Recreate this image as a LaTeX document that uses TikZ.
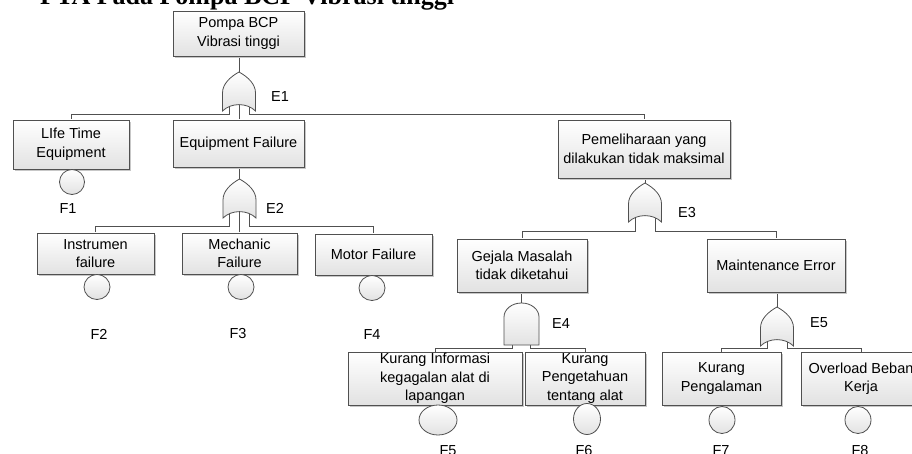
\documentclass[tikz,border=0pt]{standalone}
\usepackage{fontspec}
\setmainfont{Liberation Sans}
\newfontfamily\titleserif{Liberation Serif}
\usetikzlibrary{shapes.geometric,shadows}
\definecolor{edge}{HTML}{505050}
\definecolor{fillbot}{HTML}{E2E2E2}
\pgfdeclarelayer{paper}
\pgfdeclarelayer{wires}
\pgfsetlayers{paper,wires,main}

\tikzset{
  labelfont/.style={font=\fontsize{14.5}{18.5}\selectfont},
  eventbox/.style={labelfont, draw=edge, line width=0.8pt, top color=white,
    bottom color=fillbot, align=center, inner sep=0pt,
    drop shadow={shadow xshift=1.6pt, shadow yshift=-1.6pt, fill=black!22, opacity=1}},
  basic/.style={ellipse, draw=edge, line width=0.8pt, top color=white,
    bottom color=fillbot, inner sep=0pt},
  tag/.style={labelfont, inner sep=0pt},
  wire/.style={draw=edge, line width=0.8pt},
  gatebody/.style={draw=edge, line width=0.8pt, top color=white, bottom color=fillbot},
  % OR gate, apex at the pic origin, 33 wide and 39 high
  orgate/.pic={
    \path[gatebody] (0,0) .. controls (9,5) and (16.5,12) .. (16.5,21) -- (16.5,39)
      .. controls (8,30.5) and (-8,30.5) .. (-16.5,39) -- (-16.5,21)
      .. controls (-16.5,12) and (-9,5) .. (0,0) -- cycle;
    \coordinate (-in) at (0,0);
    \coordinate (-l) at (-10,34);
    \coordinate (-c) at (0,33);
    \coordinate (-r) at (10,34);
  },
  % AND gate, top of the dome at the pic origin, 35 wide and 42 high
  andgate/.pic={
    \path[gatebody] (-17.5,42) -- (-17.5,14) .. controls (-17.5,6.3) and (-9.7,0) .. (0,0)
      .. controls (9.7,0) and (17.5,6.3) .. (17.5,14) -- (17.5,42) -- cycle;
    \coordinate (-in) at (0,0);
    \coordinate (-l) at (-9,38);
    \coordinate (-r) at (9,38);
  },
}

\begin{document}
\begin{tikzpicture}[x=1pt,y=-1pt]
\useasboundingbox (0,0) rectangle (912,454);
\clip (0,0) rectangle (912,454);
\begin{pgfonlayer}{paper}
  \fill[white] (0,0) rectangle (912,454);
\end{pgfonlayer}

% heading
\node[anchor=base west, inner sep=0pt, font=\titleserif\bfseries\fontsize{26}{26}\selectfont]
  (title) at (40,5) {FTA Pada Pompa BCP Vibrasi tinggi};

% events
\node[eventbox, minimum width=131, minimum height=45] (top) at (238.5,33.5) {Pompa BCP\\Vibrasi tinggi};
\node[eventbox, minimum width=116, minimum height=49] (life) at (71,144.5) {LIfe Time\\Equipment};
\node[eventbox, minimum width=131, minimum height=47] (eqf) at (238.5,143.5) {Equipment Failure};
\node[eventbox, minimum width=172, minimum height=58] (pem) at (644,149) {Pemeliharaan yang\\dilakukan tidak maksimal};
\node[eventbox, minimum width=117, minimum height=41] (instr) at (95.5,253.5) {Instrumen\\failure};
\node[eventbox, minimum width=115, minimum height=41] (mech) at (239.5,253.5) {Mechanic\\Failure};
\node[eventbox, minimum width=117, minimum height=41] (motor) at (373.5,254.5) {Motor Failure};
\node[eventbox, minimum width=130, minimum height=53] (gejala) at (522,265.5) {Gejala Masalah\\tidak diketahui};
\node[eventbox, minimum width=138, minimum height=53] (maint) at (776,265.5) {Maintenance Error};
\node[eventbox, minimum width=174, minimum height=53] (kinfo) at (435,378.5) {Kurang Informasi\\kegagalan alat di\\lapangan};
\node[eventbox, minimum width=120, minimum height=53] (kpeng) at (585,378.5) {Kurang\\Pengetahuan\\tentang alat};
\node[eventbox, minimum width=119, minimum height=53] (kpgl) at (721.5,378.5) {Kurang\\Pengalaman};
\node[eventbox, minimum width=119, minimum height=53] (over) at (861,378.5) {Overload Beban\\Kerja};

% gates
\pic (g1) at (239,72) {orgate};
\pic (g2) at (239.5,179) {orgate};
\pic (g3) at (645,183) {orgate};
\pic (g4) at (521.5,303) {andgate};
\pic (g5) at (777,307) {orgate};

\node[tag] (e1) at (280,97) {E1};
\node[tag] (e2) at (275,208) {E2};
\node[tag] (e3) at (687,213) {E3};
\node[tag] (e4) at (561,324) {E4};
\node[tag] (e5) at (819,323) {E5};

% basic events
\node[basic, minimum width=25, minimum height=25] (f1c) at (72,182) {};
\node[basic, minimum width=26, minimum height=25] (f2c) at (97,287) {};
\node[basic, minimum width=26, minimum height=25] (f3c) at (241,287) {};
\node[basic, minimum width=26, minimum height=25] (f4c) at (372,288) {};
\node[basic, minimum width=38, minimum height=30] (f5c) at (438,420) {};
\node[basic, minimum width=27, minimum height=31] (f6c) at (587,419) {};
\node[basic, minimum width=26, minimum height=27] (f7c) at (722,420) {};
\node[basic, minimum width=26, minimum height=27] (f8c) at (858,420) {};

\node[tag] (f1) at (68,209) {F1};
\node[tag] (f2) at (99,334) {F2};
\node[tag] (f3) at (238,334) {F3};
\node[tag] (f4) at (372,335) {F4};
\node[tag] (f5) at (448,451) {F5};
\node[tag] (f6) at (584,451) {F6};
\node[tag] (f7) at (721,451) {F7};
\node[tag] (f8) at (860,451) {F8};

% bus levels under each gate
\coordinate (b1) at (239,114);
\coordinate (b2) at (239.5,226);
\coordinate (b3) at (645,231);
\coordinate (b4) at (521.5,348);
\coordinate (b5) at (777,348);

\begin{pgfonlayer}{wires}
  \draw[wire] (g1-in) -- (g1-in |- top.south);
  \draw[wire] (g1-l) -- (g1-l |- b1) -| (life.north);
  \draw[wire] (g1-c) -- (g1-c |- eqf.north);
  \draw[wire] (g1-r) -- (g1-r |- b1) -| (pem.north);

  \draw[wire] (g2-in) -- (g2-in |- eqf.south);
  \draw[wire] (g2-l) -- (g2-l |- b2) -| (instr.north);
  \draw[wire] (g2-c) -- (g2-c |- mech.north);
  \draw[wire] (g2-r) -- (g2-r |- b2) -| (motor.north);

  \draw[wire] (g3-in) -- (g3-in |- pem.south);
  \draw[wire] (g3-l) -- (g3-l |- b3) -| (gejala.north);
  \draw[wire] (g3-r) -- (g3-r |- b3) -| (maint.north);

  \draw[wire] (g4-in) -- (g4-in |- gejala.south);
  \draw[wire] (g4-l) -- (g4-l |- b4) -| (kinfo.north);
  \draw[wire] (g4-r) -- (g4-r |- b4) -| (kpeng.north);

  \draw[wire] (g5-in) -- (g5-in |- maint.south);
  \draw[wire] (g5-l) -- (g5-l |- b5) -| (kpgl.north);
  \draw[wire] (g5-r) -- (g5-r |- b5) -| (over.north);
\end{pgfonlayer}
\end{tikzpicture}
\end{document}
